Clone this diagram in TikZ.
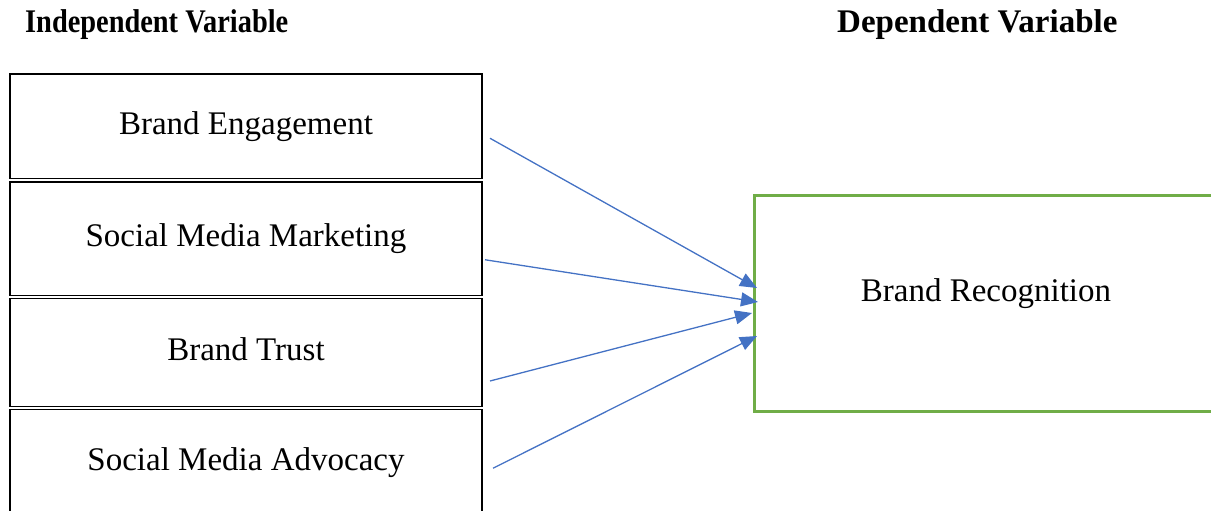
\documentclass[tikz,border=0pt]{standalone}
\usepackage{fontspec}
\usepackage{graphicx}
\setmainfont{Liberation Serif}
\usetikzlibrary{arrows.meta,calc}
\definecolor{boxgreen}{RGB}{112,173,71}
\definecolor{arrowblue}{RGB}{68,114,196}
\begin{document}
\begin{tikzpicture}[x=1pt,y=-1pt,
  ivbox/.style={draw=black,line width=1.8pt,outer sep=0pt,inner sep=0pt,
    minimum width=472pt,anchor=north west,text height=23pt,text depth=7pt,
    font=\fontsize{33}{40}\selectfont},
  dvbox/.style={draw=boxgreen,line width=3pt,outer sep=0pt,inner sep=0pt,
    minimum width=480pt,minimum height=216pt,anchor=north west},
  body/.style={font=\fontsize{33}{40}\selectfont,inner sep=0pt},
  header/.style={inner sep=0pt,anchor=base west},
  arr/.style={draw=arrowblue,line width=1.3pt,
    -{Triangle[length=17pt,width=14pt,fill=arrowblue]}}]
\useasboundingbox (0,0) rectangle (1211,511);
\clip (0,0) rectangle (1211,511);

\node[header] (ivh) at (25,33)
  {\scalebox{0.86}[1]{\fontsize{33}{38}\selectfont\bfseries Independent Variable}};
\node[header] (dvh) at (837,33)
  {\fontsize{33}{38}\selectfont\bfseries Dependent Variable};

\node[ivbox,minimum height=104.5pt] (b1) at (10,74) {Brand Engagement};
\node[ivbox,minimum height=113.5pt] (b2) at (10,182) {Social Media Marketing};
\node[ivbox,minimum height=108pt] (b3) at (10,298.5) {Brand Trust};
\node[ivbox,minimum height=105.5pt] (b4) at (10,409.5) {Social Media Advocacy};

\node[dvbox] (rec) at (754,195) {};
\node[body,anchor=base] (reclbl) at (986,301) {Brand Recognition};

\coordinate (s1) at ($(b1.east)+(8,12)$);
\coordinate (s2) at ($(b2.east)+(3,21)$);
\coordinate (s3) at ($(b3.east)+(8,28.5)$);
\coordinate (s4) at ($(b4.east)+(11,6)$);
\coordinate (t1) at ($(rec.west)+(3,-15)$);
\coordinate (t2) at ($(rec.west)+(4,-1)$);
\coordinate (t3) at ($(rec.west)+(-2,10)$);
\coordinate (t4) at ($(rec.west)+(3,33)$);

\draw[arr] (s1) -- (t1);
\draw[arr] (s2) -- (t2);
\draw[arr] (s3) -- (t3);
\draw[arr] (s4) -- (t4);
\end{tikzpicture}
\end{document}
